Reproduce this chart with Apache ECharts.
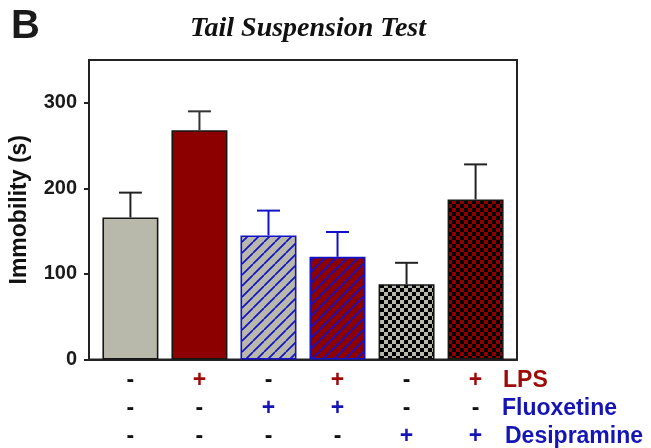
<!DOCTYPE html>
<html><head><meta charset="utf-8">
<script src="https://cdn.jsdelivr.net/npm/echarts@6/dist/echarts.min.js"></script>
<style>html,body{margin:0;padding:0;background:#fff}#c{width:651px;height:448px}</style>
</head><body><div id="c"></div>
<script>
// ---- data ----
const groups = ['Control', 'LPS', 'Fluoxetine', 'LPS + Fluoxetine', 'Desipramine', 'LPS + Desipramine'];
const immobility = [166, 268, 145, 120, 88, 187];
const sem = [29, 22, 29, 29, 25, 41];
const lpsSigns = ['-', '+', '-', '+', '-', '+'];
const fluoxetineSigns = ['-', '-', '+', '+', '-', '-'];
const desipramineSigns = ['-', '-', '-', '-', '+', '+'];
const rowNames = ['LPS', 'Fluoxetine', 'Desipramine'];
const yTicks = [0, 100, 200, 300];
const titleText = 'Tail Suspension Test';
const panelLetter = 'B';

// ---- styles ----
const GRAY = '#b8b8ab', RED = '#8c0000', BLUE = '#1212c8', BLACK = '#161616';
const SANS = "'Liberation Sans', Arial, sans-serif";

function hatch(bg) {
  const s = 11, c = document.createElement('canvas'); c.width = s; c.height = s;
  const g = c.getContext('2d'); g.fillStyle = bg; g.fillRect(0, 0, s, s);
  g.strokeStyle = BLUE; g.lineWidth = 1.7; g.beginPath();
  for (const x0 of [-s, 0, s]) { g.moveTo(x0, s); g.lineTo(x0 + s, 0); }
  g.stroke();
  return { image: c, repeat: 'repeat' };
}
function checker(bg) {
  const n = 4, c = document.createElement('canvas'); c.width = 2 * n; c.height = 2 * n;
  const g = c.getContext('2d'); g.fillStyle = bg; g.fillRect(0, 0, 2 * n, 2 * n);
  g.fillStyle = '#000'; g.fillRect(0, 0, n, n); g.fillRect(n, n, n, n);
  return { image: c, repeat: 'repeat' };
}
const fills = [GRAY, RED, hatch(GRAY), hatch(RED), checker(GRAY), checker(RED)];
const borders = [BLACK, BLACK, BLUE, BLUE, BLACK, BLACK];
const errColors = ['#222', '#333', BLUE, BLUE, '#222', '#222'];
const rowColors = ['#9c0a0a', '#1515b4', '#1515b4'];
const signRows = [lpsSigns, fluoxetineSigns, desipramineSigns];
const xMin = -0.6, xMax = 5.6;

const chart = echarts.init(document.getElementById('c'), null, { renderer: 'canvas' });

const signAxes = signRows.map((signs, k) => ({
  type: 'value', gridIndex: 0, position: 'bottom', min: xMin, max: xMax,
  offset: 21 + 28 * k,
  axisLine: { show: false, onZero: false }, axisTick: { show: false }, splitLine: { show: false },
  axisLabel: {
    customValues: groups.map((g, i) => i), margin: 0, verticalAlign: 'middle',
    formatter: v => signs[Math.round(v)] === '+' ? '{p|+}' : '{m|-}',
    rich: {
      p: { color: rowColors[k], fontSize: 23, fontWeight: 'bold', fontFamily: SANS },
      m: { color: '#111', fontSize: 23, fontWeight: 'bold', fontFamily: SANS }
    }
  },
  name: rowNames[k], nameLocation: 'end', nameGap: [-14, -15, -12][k],
  nameTextStyle: { color: rowColors[k], fontSize: 23, fontWeight: 'bold', fontFamily: SANS, align: 'left', verticalAlign: 'middle' }
}));

chart.setOption({
  animation: false,
  backgroundColor: '#fff',
  title: [
    { text: titleText, left: 303, top: 10, textAlign: 'center',
      textStyle: { fontFamily: "'Liberation Serif', 'Times New Roman', serif", fontStyle: 'italic', fontWeight: 'bold', fontSize: 28, color: '#111' } },
    { text: panelLetter, left: 6, top: 2,
      textStyle: { fontFamily: SANS, fontWeight: 'bold', fontSize: 40, color: '#1a1a1a' } }
  ],
  grid: { left: 86, right: 134, top: 60, bottom: 86, show: true, borderColor: '#222', borderWidth: 2, backgroundColor: 'transparent' },
  xAxis: [
    { type: 'value', gridIndex: 0, min: xMin, max: xMax, axisLine: { show: true, onZero: false, lineStyle: { color: '#222', width: 2 } },
      axisTick: { show: false }, axisLabel: { show: false }, splitLine: { show: false } },
    ...signAxes
  ],
  yAxis: [{
    type: 'value', min: 0, max: 350, interval: 50,
    axisLine: { show: true, onZero: false, lineStyle: { color: '#222', width: 2 } },
    axisTick: { show: true, customValues: yTicks, length: 5, lineStyle: { color: '#222', width: 2 } },
    axisLabel: { customValues: yTicks, margin: 12, color: '#1a1a1a', fontSize: 20, fontWeight: 'bold', fontFamily: SANS },
    splitLine: { show: false },
    name: 'Immobility (s)', nameLocation: 'middle', nameGap: 58,
    nameTextStyle: { color: '#111', fontSize: 23, fontWeight: 'bold', fontFamily: SANS }
  }],
  series: [
    {
      type: 'bar', xAxisIndex: 0, yAxisIndex: 0, barWidth: 56,
      data: immobility.map((v, i) => ({ value: [i, v], itemStyle: { color: fills[i], borderColor: borders[i], borderWidth: 1.6 } }))
    },
    {
      type: 'custom', xAxisIndex: 0, yAxisIndex: 0, z: 1,
      data: immobility.map((v, i) => [i, v, v + sem[i]]),
      renderItem: (params, api) => {
        const p0 = api.coord([api.value(0), api.value(1)]);
        const p1 = api.coord([api.value(0), api.value(2)]);
        const col = errColors[params.dataIndex], hw = 11.5;
        return { type: 'group', children: [
          { type: 'line', shape: { x1: p0[0], y1: p0[1], x2: p1[0], y2: p1[1] }, style: { stroke: col, lineWidth: 2 } },
          { type: 'line', shape: { x1: p1[0] - hw, y1: p1[1], x2: p1[0] + hw, y2: p1[1] }, style: { stroke: col, lineWidth: 2 } }
        ] };
      }
    }
  ]
});
</script></body></html>
